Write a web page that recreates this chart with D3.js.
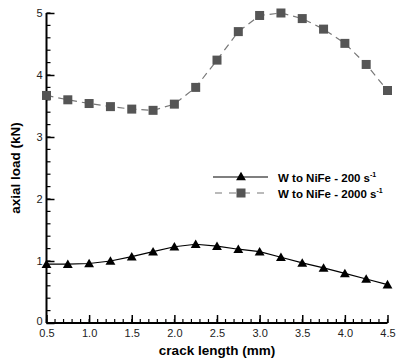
<!DOCTYPE html>
<html>
<head>
<meta charset="utf-8">
<script src="https://cdn.jsdelivr.net/npm/d3@7"></script>
<style>
  body { margin: 0; background: #fff; }
  text { font-family: "Liberation Sans", Arial, Helvetica, sans-serif; }
</style>
</head>
<body>
<div id="chart"></div>
<script>
// crack length (mm)
const crack = [0.5, 0.75, 1.0, 1.25, 1.5, 1.75, 2.0, 2.25, 2.5, 2.75, 3.0, 3.25, 3.5, 3.75, 4.0, 4.25, 4.5];
// axial load (kN), W to NiFe - 200 s^-1
const load200 = [0.95, 0.95, 0.96, 1.0, 1.07, 1.15, 1.23, 1.27, 1.24, 1.19, 1.15, 1.06, 0.97, 0.89, 0.80, 0.71, 0.62];
// axial load (kN), W to NiFe - 2000 s^-1
const load2000 = [3.67, 3.60, 3.54, 3.49, 3.45, 3.43, 3.53, 3.80, 4.24, 4.70, 4.96, 5.0, 4.91, 4.74, 4.51, 4.17, 3.75];

const xTicks = [0.5, 1.0, 1.5, 2.0, 2.5, 3.0, 3.5, 4.0, 4.5];
const yTicks = [0, 1, 2, 3, 4, 5];
const seriesNames = ["W to NiFe - 200 s", "W to NiFe - 2000 s"];

const W = 398, H = 364;
const svg = d3.select("#chart").append("svg")
  .attr("width", W).attr("height", H);

const x = d3.scaleLinear().domain([0.5, 4.5]).range([46.5, 387.5]);
const y = d3.scaleLinear().domain([0, 5]).range([323, 13]);

// minor ticks
const xMinor = d3.range(0.5, 4.501, 0.1).map(d => +d.toFixed(2));
const yMinor = d3.range(0, 5.001, 0.2).map(d => +d.toFixed(2));

svg.append("g").selectAll("line").data(xMinor).enter().append("line")
  .attr("x1", d => x(d)).attr("x2", d => x(d))
  .attr("y1", y(0)).attr("y2", y(0) - 4)
  .attr("stroke", "#000").attr("stroke-width", 1.2);
svg.append("g").selectAll("line").data(yMinor).enter().append("line")
  .attr("x1", x(0.5)).attr("x2", x(0.5) + 4)
  .attr("y1", d => y(d)).attr("y2", d => y(d))
  .attr("stroke", "#000").attr("stroke-width", 1.2);

// axes with inward major ticks
const xAxis = svg.append("g").attr("transform", `translate(0,${y(0)})`)
  .call(d3.axisTop(x).tickValues(xTicks).tickFormat(d3.format(".1f")).tickSize(8).tickPadding(0));
xAxis.selectAll("text").attr("dy", null).attr("y", 14);
const yAxis = svg.append("g").attr("transform", `translate(${x(0.5)},0)`)
  .call(d3.axisRight(y).tickValues(yTicks).tickFormat(d3.format("d")).tickSize(8).tickPadding(0));
yAxis.selectAll("text").attr("x", -4).attr("text-anchor", "end");
yAxis.selectAll(".tick").filter(d => d === 0).select("text").attr("dy", "0.1em");

[xAxis, yAxis].forEach(a => {
  a.select(".domain").remove();
  a.selectAll("line").attr("stroke", "#000").attr("stroke-width", 1.5);
  a.selectAll("text").attr("font-size", 11).attr("fill", "#222")
    .style("font-family", "'Liberation Sans', Arial, sans-serif");
});
svg.append("line").attr("x1", x(0.5)).attr("x2", x(4.5)).attr("y1", y(0)).attr("y2", y(0))
  .attr("stroke", "#000").attr("stroke-width", 2);
svg.append("line").attr("x1", x(0.5)).attr("x2", x(0.5)).attr("y1", y(0)).attr("y2", y(5))
  .attr("stroke", "#000").attr("stroke-width", 2);

// axis titles
svg.append("text").attr("x", 217).attr("y", 355).attr("text-anchor", "middle")
  .attr("font-size", 13.5).attr("font-weight", "bold").text("crack length (mm)");
svg.append("text").attr("transform", "translate(20,168) rotate(-90)").attr("text-anchor", "middle")
  .attr("font-size", 13.5).attr("font-weight", "bold").text("axial load (kN)");

const line = d3.line().x(d => x(d[0])).y(d => y(d[1]));
const tri = d3.symbol().type(d3.symbolTriangle).size(42);

const d200 = crack.map((c, i) => [c, load200[i]]);
const d2000 = crack.map((c, i) => [c, load2000[i]]);

// 2000 s^-1 series
svg.append("path").datum(d2000).attr("d", line)
  .attr("fill", "none").attr("stroke", "#777").attr("stroke-width", 1.2)
  .attr("stroke-dasharray", "7,5");
svg.append("g").selectAll("rect").data(d2000).enter().append("rect")
  .attr("x", d => x(d[0]) - 4.5).attr("y", d => y(d[1]) - 4.5)
  .attr("width", 9).attr("height", 9).attr("fill", "#555");

// 200 s^-1 series
svg.append("path").datum(d200).attr("d", line)
  .attr("fill", "none").attr("stroke", "#000").attr("stroke-width", 1.2);
svg.append("g").selectAll("path.tri").data(d200).enter().append("path")
  .attr("class", "tri").attr("d", tri)
  .attr("transform", d => `translate(${x(d[0])},${y(d[1]) + 1})`)
  .attr("fill", "#000");

// legend
const lg = svg.append("g");
const rows = [177, 193];
lg.append("line").attr("x1", 213).attr("x2", 268).attr("y1", rows[0]).attr("y2", rows[0])
  .attr("stroke", "#000").attr("stroke-width", 1.2);
lg.append("path").attr("d", tri).attr("transform", `translate(241,${rows[0] + 0.5})`).attr("fill", "#000");
lg.append("line").attr("x1", 215).attr("x2", 268).attr("y1", rows[1]).attr("y2", rows[1])
  .attr("stroke", "#777").attr("stroke-width", 1.2).attr("stroke-dasharray", "7,7");
lg.append("rect").attr("x", 236.5).attr("y", rows[1] - 4.5).attr("width", 9).attr("height", 9).attr("fill", "#555");

seriesNames.forEach((s, i) => {
  const t = lg.append("text").attr("x", 278).attr("y", rows[i] + 4.5)
    .attr("font-size", 11.5).attr("font-weight", "bold");
  t.append("tspan").text(s);
  t.append("tspan").attr("dy", -4.5).attr("font-size", 7).text("-1");
});
</script>
</body>
</html>
